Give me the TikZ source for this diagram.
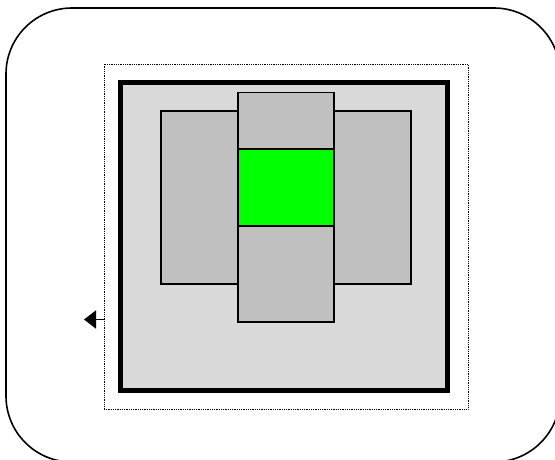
\documentclass[tikz,border=0pt]{standalone}
\usetikzlibrary{arrows.meta}
\definecolor{panelgray}{HTML}{D9D9D9}
\definecolor{blockgray}{HTML}{C0C0C0}
\definecolor{coregreen}{HTML}{00FF00}
\begin{document}
\begin{tikzpicture}
        [
            x = 1pt, y = -1pt,
            box/.style = {draw, inner sep = 0pt, outer sep = 0pt},
            block/.style = {box, line width = 1.6pt, fill = blockgray},
        ]
        \useasboundingbox (0,0) rectangle (555,459);
        \clip (0,0) rectangle (555,459);
        % outer frame
        \node[box, line width = 1.6pt, rounded corners = 66pt,
            minimum width = 554pt, minimum height = 454pt] (frame) at (283,235) {};
        % dotted boundary
        \node[box, densely dotted, line width = 0.8pt,
            minimum width = 364pt, minimum height = 345pt] (bound) at (286,236.5) {};
        % panel
        \node[box, line width = 5pt, fill = panelgray,
            minimum width = 327pt, minimum height = 307.5pt] (panel) at (284,236.25) {};
        % blocks
        \node[block, minimum width = 250pt, minimum height = 173pt] (wide) at (286,197.5) {};
        \node[block, minimum width = 96pt, minimum height = 229.5pt] (tall) at (286,207.25) {};
        \node[block, fill = coregreen, minimum width = 96pt, minimum height = 77pt] (core) at (286,187.5) {};
        % port arrow
        \coordinate (tip) at (84,319.5);
        \draw[line width = 1.8pt, -{Triangle[length = 12pt, width = 18pt]}] (bound.west |- tip) -- (tip);
    \end{tikzpicture}
\end{document}
